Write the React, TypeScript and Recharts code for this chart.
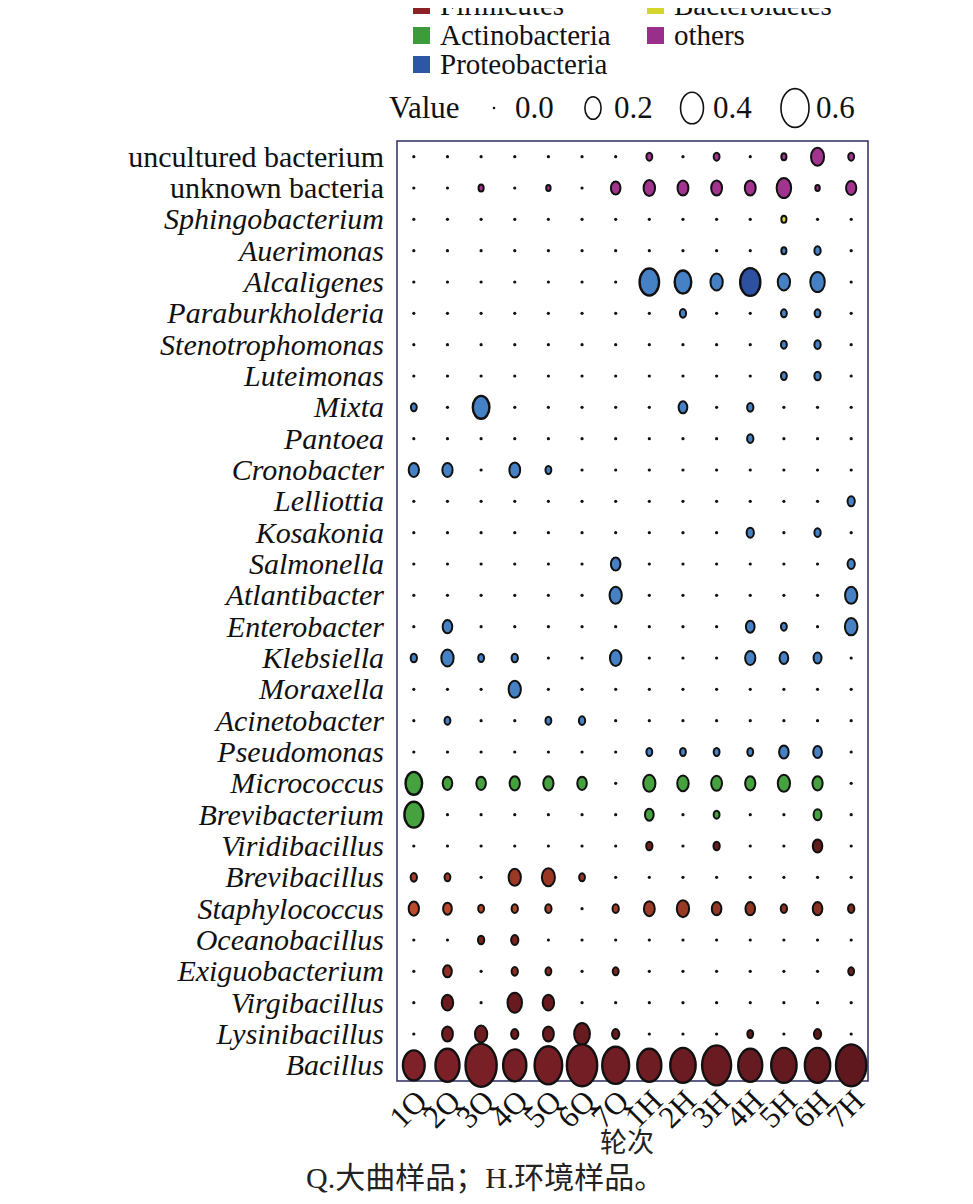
import React from "react";
import {
  ScatterChart,
  Scatter,
  XAxis,
  YAxis,
  ReferenceArea,
} from "recharts";

// sample rounds (x axis)
const samples = ["1Q", "2Q", "3Q", "4Q", "5Q", "6Q", "7Q", "1H", "2H", "3H", "4H", "5H", "6H", "7H"];

// genera, top to bottom
const genera = [
  "uncultured bacterium", "unknown bacteria", "Sphingobacterium", "Auerimonas", "Alcaligenes",
  "Paraburkholderia", "Stenotrophomonas", "Luteimonas", "Mixta", "Pantoea", "Cronobacter",
  "Lelliottia", "Kosakonia", "Salmonella", "Atlantibacter", "Enterobacter", "Klebsiella",
  "Moraxella", "Acinetobacter", "Pseudomonas", "Micrococcus", "Brevibacterium", "Viridibacillus",
  "Brevibacillus", "Staphylococcus", "Oceanobacillus", "Exiguobacterium", "Virgibacillus",
  "Lysinibacillus", "Bacillus",
];

const phylumOf = [
  "others", "others", "Bacteroidetes", "Proteobacteria", "Proteobacteria",
  "Proteobacteria", "Proteobacteria", "Proteobacteria", "Proteobacteria", "Proteobacteria", "Proteobacteria",
  "Proteobacteria", "Proteobacteria", "Proteobacteria", "Proteobacteria", "Proteobacteria", "Proteobacteria",
  "Proteobacteria", "Proteobacteria", "Proteobacteria", "Actinobacteria", "Actinobacteria", "Firmicutes",
  "Firmicutes", "Firmicutes", "Firmicutes", "Firmicutes", "Firmicutes",
  "Firmicutes", "Firmicutes",
];

// relative abundance, one row per genus, one column per sample
const abundance: number[][] = [
  [0, 0, 0, 0, 0, 0, 0, 0.026, 0, 0.026, 0, 0.02, 0.13, 0.026],
  [0, 0, 0.02, 0, 0.015, 0, 0.07, 0.1, 0.09, 0.09, 0.09, 0.16, 0.015, 0.08],
  [0, 0, 0, 0, 0, 0, 0, 0, 0, 0, 0, 0.02, 0, 0],
  [0, 0, 0, 0, 0, 0, 0, 0, 0, 0, 0, 0.02, 0.03, 0],
  [0, 0, 0, 0, 0, 0, 0, 0.29, 0.21, 0.115, 0.31, 0.115, 0.16, 0],
  [0, 0, 0, 0, 0, 0, 0, 0, 0.03, 0, 0, 0.026, 0.026, 0],
  [0, 0, 0, 0, 0, 0, 0, 0, 0, 0, 0, 0.026, 0.03, 0],
  [0, 0, 0, 0, 0, 0, 0, 0, 0, 0, 0, 0.026, 0.03, 0],
  [0.026, 0, 0.21, 0, 0, 0, 0, 0, 0.058, 0, 0.03, 0, 0, 0],
  [0, 0, 0, 0, 0, 0, 0, 0, 0, 0, 0.03, 0, 0, 0],
  [0.08, 0.08, 0, 0.09, 0.026, 0, 0, 0, 0, 0, 0, 0, 0, 0],
  [0, 0, 0, 0, 0, 0, 0, 0, 0, 0, 0, 0, 0, 0.04],
  [0, 0, 0, 0, 0, 0, 0, 0, 0, 0, 0.04, 0, 0.03, 0],
  [0, 0, 0, 0, 0, 0, 0.07, 0, 0, 0, 0, 0, 0, 0.04],
  [0, 0, 0, 0, 0, 0, 0.115, 0, 0, 0, 0, 0, 0, 0.115],
  [0, 0.07, 0, 0, 0, 0, 0, 0, 0, 0, 0.058, 0.026, 0, 0.12],
  [0.03, 0.115, 0.026, 0.03, 0, 0, 0.1, 0, 0, 0, 0.08, 0.058, 0.048, 0],
  [0, 0, 0, 0.115, 0, 0, 0, 0, 0, 0, 0, 0, 0, 0],
  [0, 0.026, 0, 0, 0.026, 0.03, 0, 0, 0, 0, 0, 0, 0, 0],
  [0, 0, 0, 0, 0, 0, 0, 0.026, 0.026, 0.026, 0.026, 0.07, 0.058, 0],
  [0.21, 0.07, 0.07, 0.08, 0.08, 0.07, 0, 0.115, 0.1, 0.09, 0.08, 0.115, 0.08, 0],
  [0.27, 0, 0, 0, 0, 0, 0, 0.058, 0, 0.026, 0, 0, 0.048, 0],
  [0, 0, 0, 0, 0, 0, 0, 0.03, 0, 0.03, 0, 0, 0.07, 0],
  [0.03, 0.026, 0, 0.115, 0.13, 0.026, 0, 0, 0, 0, 0, 0, 0, 0],
  [0.08, 0.058, 0.026, 0.03, 0.03, 0, 0.03, 0.09, 0.115, 0.07, 0.07, 0.03, 0.07, 0.03],
  [0, 0, 0.03, 0.04, 0, 0, 0, 0, 0, 0, 0, 0, 0, 0],
  [0, 0.058, 0, 0.03, 0.026, 0, 0.026, 0, 0, 0, 0, 0, 0, 0.026],
  [0, 0.1, 0, 0.16, 0.1, 0, 0, 0, 0, 0, 0, 0, 0, 0],
  [0, 0.09, 0.115, 0.04, 0.09, 0.19, 0.04, 0, 0, 0, 0.026, 0, 0.04, 0],
  [0.36, 0.44, 0.74, 0.41, 0.58, 0.7, 0.55, 0.44, 0.49, 0.64, 0.44, 0.49, 0.49, 0.7],
];

// legend entries
const phylumLegend = ["Firmicutes", "Bacteroidetes", "Actinobacteria", "others", "Proteobacteria"];
const sizeBreaks = [0, 0.2, 0.4, 0.6];

const phylumSwatch: Record<string, string> = {
  Firmicutes: "#8b2226",
  Bacteroidetes: "#d3d52b",
  Actinobacteria: "#3d9b3b",
  others: "#992f8b",
  Proteobacteria: "#2e56a6",
};

const bubbleFill: Record<string, string> = {
  others: "#a2348f",
  Bacteroidetes: "#d8d836",
  Proteobacteria: "#4681c5",
  Actinobacteria: "#45a23e",
};

// firmicutes genera are shaded individually (lighter in Q, darker in H)
const firmTint: Record<string, string> = {
  Bacillus: "#7e2128",
  Lysinibacillus: "#721d21",
  Virgibacillus: "#6e1b1f",
  Exiguobacterium: "#923024",
  Oceanobacillus: "#7d2320",
  Staphylococcus: "#bd4a2d",
  Brevibacillus: "#a83d27",
  Viridibacillus: "#7e2622",
};

const SERIF = '"Liberation Serif", "Times New Roman", serif';
const CJK = '"Liberation Serif", "Noto Sans CJK SC", serif';

const mix = (a: string, b: string, t: number) => {
  const pa = [1, 3, 5].map((i) => parseInt(a.slice(i, i + 2), 16));
  const pb = [1, 3, 5].map((i) => parseInt(b.slice(i, i + 2), 16));
  return (
    "#" +
    pa
      .map((v, i) => Math.round(v + (pb[i] - v) * t).toString(16).padStart(2, "0"))
      .join("")
  );
};

const ry = (v: number) => 25 * Math.sqrt(v);
const ASPECT = 1.38;

const fillFor = (phylum: string, genus: string, col: number) => {
  if (phylum === "Firmicutes") {
    const base = firmTint[genus] || "#7e2128";
    return mix(base, "#3a0f11", (col / 13) * 0.45);
  }
  if (genus === "Alcaligenes" && col === 10) return "#2d50a0";
  return bubbleFill[phylum];
};

type Pt = { x: number; y: number; v: number; genus: string; phylum: string };

const seriesData = (phylum: string): Pt[] => {
  const out: Pt[] = [];
  genera.forEach((g, r) => {
    if (phylumOf[r] !== phylum) return;
    samples.forEach((_, c) => {
      out.push({ x: c, y: r, v: abundance[r][c], genus: g, phylum });
    });
  });
  return out;
};

const Bubble = (props: any) => {
  const { cx, cy, payload } = props;
  if (cx == null || cy == null) return null;
  const v: number = payload.v;
  if (v <= 0) return <circle cx={cx} cy={cy} r={1.6} fill="#111" />;
  const h = Math.max(2.5, ry(v));
  return (
    <ellipse
      cx={cx}
      cy={cy}
      rx={h / ASPECT}
      ry={h}
      fill={fillFor(payload.phylum, payload.genus, payload.x)}
      stroke="#111"
      strokeWidth={v > 0.2 ? 2.4 : 2}
    />
  );
};

const YTick = (props: any) => {
  const { y, payload } = props;
  const name = genera[payload.value];
  const upright = name === "uncultured bacterium" || name === "unknown bacteria";
  return (
    <text
      x={384}
      y={y}
      dy={10}
      textAnchor="end"
      fontFamily={SERIF}
      fontSize={30}
      fontStyle={upright ? "normal" : "italic"}
      fill="#111"
    >
      {name}
    </text>
  );
};

const XTick = (props: any) => {
  const { x, y, payload } = props;
  const ax = x + 15;
  const ay = y + 14;
  return (
    <text
      x={ax}
      y={ay}
      transform={`rotate(-45 ${ax} ${ay})`}
      textAnchor="end"
      fontFamily={SERIF}
      fontSize={31}
      fill="#111"
    >
      {samples[payload.value]}
    </text>
  );
};

const phyla = ["Firmicutes", "Actinobacteria", "Proteobacteria", "Bacteroidetes", "others"];

export default function App() {
  const legendPos = [
    { x: 413, y: 15 },
    { x: 647, y: 15 },
    { x: 413, y: 45 },
    { x: 647, y: 45 },
    { x: 413, y: 74 },
  ];
  const sizePos = [494, 593, 692, 795];
  return (
    <div style={{ position: "relative", width: 973, height: 1204, marginLeft: -8, marginTop: -8, background: "#fff" }}>
      <svg width={973} height={135} style={{ position: "absolute", left: 0, top: 0 }}>
        {phylumLegend.map((p, i) => (
          <g key={p}>
            <rect x={legendPos[i].x} y={legendPos[i].y - 18} width={17} height={17} fill={phylumSwatch[p]} />
            <text x={legendPos[i].x + 27} y={legendPos[i].y} fontFamily={SERIF} fontSize={29} fill="#111">
              {p}
            </text>
          </g>
        ))}
        <text x={389} y={118} fontFamily={SERIF} fontSize={31} fill="#111">
          Value
        </text>
        {sizeBreaks.map((b, i) => (
          <g key={b}>
            {b <= 0 ? (
              <circle cx={sizePos[i]} cy={108} r={1.3} fill="#111" />
            ) : (
              <ellipse
                cx={sizePos[i]}
                cy={108}
                rx={ry(b) / ASPECT}
                ry={ry(b)}
                fill="#fff"
                stroke="#111"
                strokeWidth={1.6}
              />
            )}
            <text x={sizePos[i] + 21} y={118} fontFamily={SERIF} fontSize={31} fill="#111">
              {b.toFixed(1)}
            </text>
          </g>
        ))}
      </svg>
      <div style={{ position: "absolute", left: 0, top: 0 }}>
        <ScatterChart width={973} height={1204} margin={{ top: 141, right: 105, bottom: 0, left: 0 }}>
          <XAxis
            type="number"
            dataKey="x"
            domain={[-0.5, samples.length - 0.5]}
            ticks={samples.map((_, i) => i)}
            interval={0}
            height={123}
            axisLine={false}
            tickLine={false}
            tick={<XTick />}
          />
          <YAxis
            type="number"
            dataKey="y"
            reversed
            domain={[-0.5, genera.length - 0.5]}
            ticks={genera.map((_, i) => i)}
            interval={0}
            width={397}
            axisLine={false}
            tickLine={false}
            tick={<YTick />}
          />
          <ReferenceArea
            x1={-0.5}
            x2={samples.length - 0.5}
            y1={-0.5}
            y2={genera.length - 0.5}
            fill="none"
            fillOpacity={0}
            stroke="#2b2d5c"
            strokeWidth={1.5}
          />
          {phyla.map((p) => (
            <Scatter key={p} name={p} data={seriesData(p)} shape={<Bubble />} isAnimationActive={false} />
          ))}
        </ScatterChart>
      </div>
      <div
        style={{
          position: "absolute",
          left: 600,
          top: 1126,
          fontFamily: CJK,
          fontSize: 27,
          color: "#222",
          lineHeight: "34px",
          whiteSpace: "nowrap",
        }}
      >
        轮次
      </div>
      <div
        style={{
          position: "absolute",
          left: 306,
          top: 1160,
          fontFamily: CJK,
          fontSize: 30,
          color: "#222",
          lineHeight: "36px",
          whiteSpace: "nowrap",
        }}
      >
        Q.大曲样品；H.环境样品。
      </div>
    </div>
  );
}
